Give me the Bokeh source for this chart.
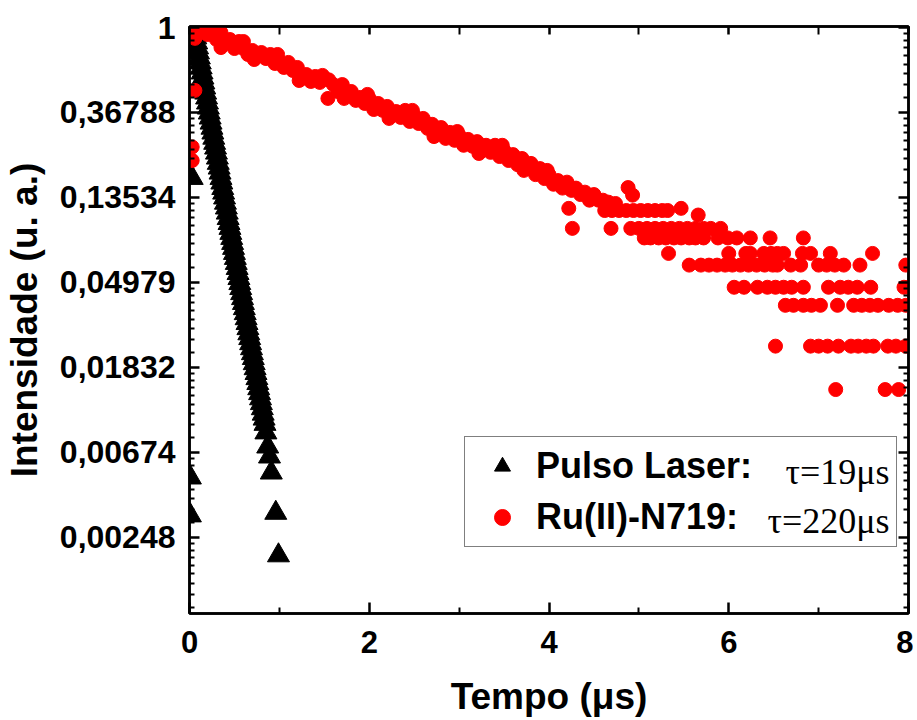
import math
from bokeh.plotting import figure
from bokeh.models import (LogAxis, LinearAxis, FixedTicker, CustomJSTickFormatter,
                          Range1d, Legend, LegendItem, Label, ColumnDataSource)
from bokeh.embed import file_html
from bokeh.resources import INLINE

# ---------------- data ----------------
black_t = [0.01, 0.01, 0.03,
           0.05, 0.06, 0.07, 0.08, 0.09, 0.10, 0.11, 0.12, 0.13, 0.14,
           0.15, 0.16, 0.17, 0.18, 0.19, 0.20, 0.21, 0.22, 0.23, 0.24,
           0.25, 0.26, 0.27, 0.28, 0.29, 0.30, 0.31, 0.32, 0.33, 0.34,
           0.35, 0.36, 0.37, 0.38, 0.39, 0.40, 0.41, 0.42, 0.43, 0.44,
           0.45, 0.46, 0.47, 0.48, 0.49, 0.50, 0.51, 0.52, 0.53, 0.54,
           0.55, 0.56, 0.57, 0.58, 0.59, 0.60, 0.61, 0.62, 0.63, 0.64,
           0.65, 0.66, 0.67, 0.68, 0.69, 0.70, 0.71, 0.72, 0.73, 0.74,
           0.75, 0.76, 0.77, 0.78, 0.79, 0.80, 0.81, 0.82, 0.83,
           0.84, 0.85, 0.87, 0.89, 0.91, 0.96, 0.99]
black_i = [0.0050, 0.0032, 0.17,
           1.000, 0.943, 0.889, 0.838, 0.790, 0.745, 0.702, 0.662, 0.624, 0.588,
           0.554, 0.523, 0.493, 0.464, 0.438, 0.413, 0.389, 0.367, 0.346, 0.326,
           0.307, 0.290, 0.273, 0.257, 0.243, 0.229, 0.216, 0.203, 0.192, 0.181,
           0.170, 0.161, 0.151, 0.143, 0.135, 0.127, 0.120, 0.113, 0.106, 0.100,
           0.0944, 0.0890, 0.0839, 0.0791, 0.0746, 0.0703, 0.0663, 0.0625, 0.0589, 0.0555,
           0.0523, 0.0493, 0.0465, 0.0438, 0.0413, 0.0390, 0.0367, 0.0346, 0.0326, 0.0308,
           0.0290, 0.0273, 0.0258, 0.0243, 0.0229, 0.0216, 0.0204, 0.0192, 0.0181, 0.0171,
           0.0161, 0.0152, 0.0143, 0.0135, 0.0127, 0.0120, 0.0113, 0.0106, 0.0100,
           0.0094, 0.0085, 0.0072, 0.0064, 0.0053, 0.0033, 0.0020]

red_band_t = [0.10, 0.15, 0.20, 0.25, 0.30, 0.35, 0.40, 0.45, 0.50, 0.55,
              0.60, 0.65, 0.70, 0.75, 0.80, 0.85, 0.90, 0.95, 1.00, 1.05,
              1.10, 1.15, 1.20, 1.25, 1.30, 1.35, 1.40, 1.45, 1.50, 1.55,
              1.60, 1.65, 1.70, 1.75, 1.80, 1.85, 1.90, 1.95, 2.00, 2.05,
              2.10, 2.15, 2.20, 2.25, 2.30, 2.35, 2.40, 2.45, 2.50, 2.55,
              2.60, 2.65, 2.70, 2.75, 2.80, 2.85, 2.90, 2.95, 3.00, 3.05,
              3.10, 3.15, 3.20, 3.25, 3.30, 3.35, 3.40, 3.45, 3.50, 3.55,
              3.60, 3.65, 3.70, 3.75, 3.80, 3.85, 3.90, 3.95, 4.00, 4.05,
              4.10, 4.15, 4.20, 4.25, 4.30, 4.35, 4.40, 4.45, 4.50, 4.55]
red_band_i = [0.932, 0.977, 0.921, 0.965, 0.868, 0.943, 0.838, 0.868, 0.781, 0.848,
              0.781, 0.728, 0.763, 0.711, 0.745, 0.694, 0.728, 0.655, 0.671, 0.625,
              0.663, 0.603, 0.625, 0.549, 0.575, 0.530, 0.562, 0.524, 0.549, 0.540,
              0.511, 0.471, 0.511, 0.455, 0.471, 0.424, 0.439, 0.409, 0.434, 0.381,
              0.409, 0.377, 0.395, 0.355, 0.372, 0.347, 0.377, 0.331, 0.355, 0.323,
              0.343, 0.305, 0.320, 0.291, 0.308, 0.271, 0.291, 0.265, 0.281, 0.250,
              0.268, 0.247, 0.261, 0.235, 0.250, 0.230, 0.250, 0.219, 0.235, 0.209,
              0.224, 0.199, 0.214, 0.190, 0.202, 0.177, 0.190, 0.169, 0.177, 0.158,
              0.165, 0.151, 0.162, 0.147, 0.151, 0.140, 0.144, 0.131, 0.140, 0.131]

red_extra_t = [0.03, 0.03, 0.06, 0.06, 0.08, 1.54, 4.22, 4.88, 4.93, 4.60, 4.66, 4.74, 5.47, 5.66,
               0.35, 0.60, 0.72, 0.98, 1.22, 1.48, 1.72, 1.98, 2.22, 2.48, 2.72, 2.98,
               3.22, 3.48, 3.72, 3.98]
red_extra_i = [0.245, 0.209, 0.477, 0.88, 0.97, 0.434, 0.119, 0.152, 0.139, 0.131, 0.128, 0.126, 0.119, 0.110,
               0.790, 0.848, 0.686, 0.728, 0.536, 0.569, 0.434, 0.455, 0.343, 0.377, 0.277, 0.294,
               0.227, 0.250, 0.186, 0.186]

red_tail_levels = [0.116, 0.094, 0.084, 0.070, 0.061, 0.047, 0.038, 0.0235, 0.0141]
red_tail_times = [
    [4.62, 4.70, 4.78, 4.86, 4.94, 5.02, 5.10, 5.18, 5.26, 5.32],
    [4.26, 4.69, 4.91, 5.00, 5.09, 5.18, 5.27, 5.36, 5.45, 5.54, 5.63, 5.72, 5.80, 5.91],
    [5.06, 5.13, 5.22, 5.30, 5.39, 5.47, 5.56, 5.63, 5.72, 5.88, 5.99, 6.09, 6.24, 6.46, 6.83],
    [5.33, 6.00, 6.19, 6.24, 6.39, 6.47, 6.54, 6.61, 6.82, 6.91, 7.13, 7.60],
    [5.56, 5.69, 5.78, 5.87, 5.96, 6.04, 6.13, 6.22, 6.31, 6.40, 6.49, 6.54, 6.69, 6.80,
     7.00, 7.09, 7.18, 7.28, 7.46, 7.97],
    [6.06, 6.17, 6.32, 6.43, 6.52, 6.61, 6.70, 6.83, 7.11, 7.24, 7.33, 7.43, 7.58, 7.95, 8.00],
    [6.63, 6.72, 6.83, 6.92, 7.02, 7.21, 7.39, 7.48, 7.57, 7.66, 7.78, 7.88, 7.97],
    [6.52, 6.91, 7.00, 7.10, 7.22, 7.36, 7.44, 7.53, 7.61, 7.77, 7.86, 7.97],
    [7.19, 7.74, 7.89],
]

x_major = [0, 2, 4, 6, 8]
x_minor = [1, 3, 5, 7]
y_tick_labels = ["1", "0,36788", "0,13534", "0,04979", "0,01832", "0,00674", "0,00248"]
legend_names = ["Pulso Laser:", "Ru(II)-N719:"]
legend_tau = ["\u03c4=19\u03bcs", "\u03c4=220\u03bcs"]

# ---------------- build sources ----------------
red_t = list(red_extra_t) + list(red_band_t)
red_i = list(red_extra_i) + list(red_band_i)
for lvl, times in zip(red_tail_levels, red_tail_times):
    red_t += times
    red_i += [lvl] * len(times)

src_black = ColumnDataSource(dict(t=black_t, i=black_i))
src_red = ColumnDataSource(dict(t=red_t, i=red_i))

# ---------------- figure ----------------
p = figure(width=913, height=720, x_range=Range1d(0, 8), y_range=Range1d(0.00101, 1.012),
           y_axis_type="log", output_backend="svg", toolbar_location=None,
           min_border_left=188, min_border_right=5, min_border_top=26, min_border_bottom=107,
           background_fill_color="white", border_fill_color="white")
p.xgrid.visible = False
p.ygrid.visible = False
p.outline_line_color = "black"
p.outline_line_width = 2.5

y_major = [math.exp(-n) for n in range(len(y_tick_labels))]
y_minor = []
for n in range(len(y_tick_labels)):
    hi, lo = math.exp(-n), math.exp(-(n + 1))
    step = (hi - lo) / 9.0
    y_minor += [lo + k * step for k in range(1, 9)]

xticker = FixedTicker(ticks=x_major, minor_ticks=x_minor)
yticker = FixedTicker(ticks=y_major, minor_ticks=y_minor)

FONT = "Liberation Sans"


def style_axis(ax, ticker, major_in, minor_in):
    ax.ticker = ticker
    ax.axis_line_width = 2.5
    ax.axis_line_color = "black"
    ax.major_tick_in = major_in
    ax.major_tick_out = 0
    ax.minor_tick_in = minor_in
    ax.minor_tick_out = 0
    ax.major_tick_line_width = 2.5
    ax.minor_tick_line_width = 2
    ax.major_tick_line_color = "black"
    ax.minor_tick_line_color = "black"
    ax.major_label_text_font = FONT
    ax.major_label_text_font_style = "bold"
    ax.major_label_text_color = "black"
    ax.axis_label_text_font = FONT
    ax.axis_label_text_font_style = "bold"
    ax.axis_label_text_color = "black"


xb = p.xaxis[0]
style_axis(xb, xticker, 11, 6)
xb.major_label_text_font_size = "31px"
xb.major_label_standoff = 17
xb.axis_label = "Tempo (\u03bcs)"
xb.axis_label_text_font_size = "37px"
xb.axis_label_standoff = 20

yl = p.yaxis[0]
style_axis(yl, yticker, 10, 5)
yl.formatter = CustomJSTickFormatter(args=dict(labels=y_tick_labels),
                                     code="const n = Math.round(-Math.log(tick)); return labels[n];")
yl.major_label_text_font_size = "32px"
yl.major_label_standoff = 14
yl.axis_label = "Intensidade (u. a.)"
yl.axis_label_text_font_size = "37px"
yl.axis_label_standoff = 12

blank = CustomJSTickFormatter(code="return '';")

xt = LinearAxis()
style_axis(xt, xticker, 8, 8)
xt.formatter = blank
xt.major_label_text_color = None
xt.major_label_text_font_size = "1px"
xt.major_label_standoff = 0
p.add_layout(xt, "above")

yr = LogAxis()
style_axis(yr, yticker, 10, 5)
yr.formatter = blank
yr.major_label_text_color = None
yr.major_label_text_font_size = "1px"
yr.major_label_standoff = 0
p.add_layout(yr, "right")

rb = p.scatter("t", "i", source=src_black, marker="triangle", size=22,
               fill_color="black", line_color="black")
rr = p.scatter("t", "i", source=src_red, marker="circle", size=14,
               fill_color="#ff0000", line_color="#ff0000")

legend = Legend(items=[LegendItem(label=legend_names[0], renderers=[rb]),
                       LegendItem(label=legend_names[1], renderers=[rr])],
                location=(275, 66), padding=8, glyph_width=58, glyph_height=40,
                label_standoff=5, label_width=352, spacing=9, margin=0,
                label_text_font=FONT, label_text_font_style="bold",
                label_text_font_size="36px", label_text_color="black",
                border_line_color="black", border_line_width=1.5,
                background_fill_color="white", background_fill_alpha=0.0)
p.add_layout(legend, "center")

for txt, ybase in zip(legend_tau, [142, 93]):
    p.add_layout(Label(x=700, y=ybase, x_units="screen", y_units="screen", text=txt,
                       text_align="right", text_baseline="alphabetic",
                       text_font="Liberation Serif", text_font_size="36px",
                       text_color="black", level="overlay"))

open("out.html", "w").write(file_html(p, INLINE))
